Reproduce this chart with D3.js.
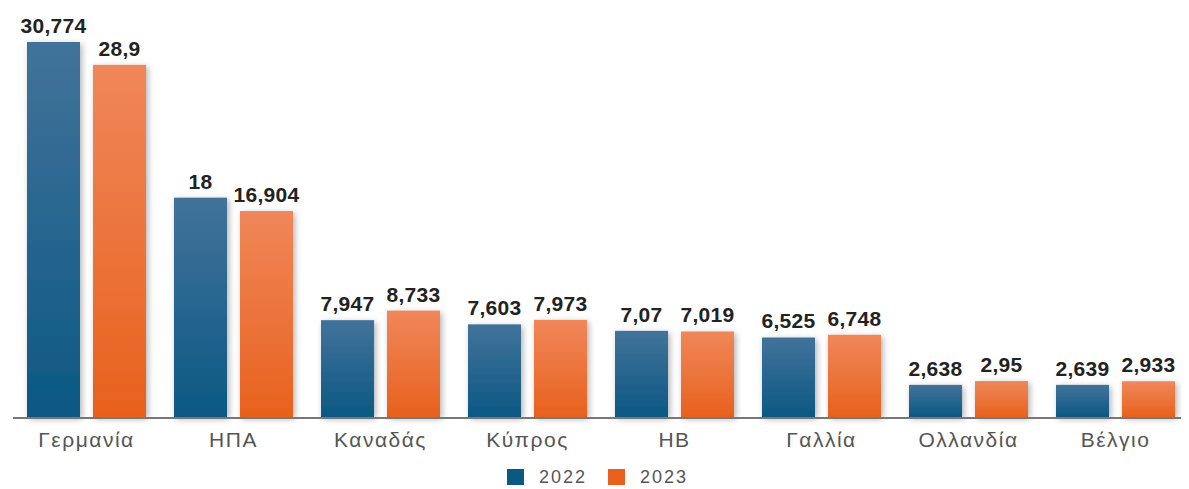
<!DOCTYPE html>
<html>
<head>
<meta charset="utf-8">
<script src="https://cdn.jsdelivr.net/npm/d3@7"></script>
<style>
  body { margin: 0; background: #fff; }
  svg { display: block; font-family: "Liberation Sans", Arial, sans-serif; }
</style>
</head>
<body>
<div id="chart"></div>
<script>
// Δεδομένα
const countries = ["Γερμανία", "ΗΠΑ", "Καναδάς", "Κύπρος", "ΗΒ", "Γαλλία", "Ολλανδία", "Βέλγιο"];
const years = ["2022", "2023"];
const values2022 = [30.774, 18, 7.947, 7.603, 7.07, 6.525, 2.638, 2.639];
const values2023 = [28.9, 16.904, 8.733, 7.973, 7.019, 6.748, 2.95, 2.933];

const WIDTH = 1189;
const HEIGHT = 489;
const margin = { top: 42, right: 0, bottom: 72, left: 13 };
const baseY = HEIGHT - margin.bottom;

const colors = {
  "2022": ["#42739a", "#0b5884"],
  "2023": ["#f0875a", "#e8611d"]
};

const rows = countries.map((c, i) => ({
  country: c,
  vals: [
    { year: "2022", v: values2022[i] },
    { year: "2023", v: values2023[i] }
  ]
}));

const svg = d3.select("#chart").append("svg")
  .attr("width", WIDTH)
  .attr("height", HEIGHT);

const defs = svg.append("defs");
years.forEach(y => {
  const g = defs.append("linearGradient")
    .attr("id", "grad" + y)
    .attr("x1", 0).attr("y1", 0).attr("x2", 0).attr("y2", 1);
  g.append("stop").attr("offset", "0%").attr("stop-color", colors[y][0]);
  g.append("stop").attr("offset", "100%").attr("stop-color", colors[y][1]);
});
defs.append("filter").attr("id", "shadow")
  .attr("x", "-30%").attr("y", "-10%").attr("width", "160%").attr("height", "130%")
  .append("feDropShadow")
  .attr("dx", 2).attr("dy", 2).attr("stdDeviation", 3)
  .attr("flood-color", "#000").attr("flood-opacity", 0.3);

// Escalas
const x0 = d3.scaleBand()
  .domain(countries)
  .range([margin.left, WIDTH - margin.right])
  .paddingInner(0)
  .paddingOuter(0);

const x1 = d3.scaleBand()
  .domain(years)
  .range([14, x0.bandwidth() - 14])
  .paddingInner(0.197);

const y = d3.scaleLinear()
  .domain([0, 30.774])
  .range([baseY, margin.top]);

const fmt = v => String(v).replace(".", ",");

// Barras
const groups = svg.append("g").selectAll("g")
  .data(rows)
  .join("g")
  .attr("transform", d => `translate(${x0(d.country)},0)`);

groups.selectAll("rect")
  .data(d => d.vals)
  .join("rect")
  .attr("x", d => x1(d.year))
  .attr("y", d => y(d.v))
  .attr("width", x1.bandwidth())
  .attr("height", d => baseY - y(d.v))
  .attr("fill", d => `url(#grad${d.year})`)
  .attr("filter", "url(#shadow)");

groups.selectAll("text.val")
  .data(d => d.vals)
  .join("text")
  .attr("class", "val")
  .attr("x", d => x1(d.year) + x1.bandwidth() / 2)
  .attr("y", d => y(d.v) - 9)
  .attr("text-anchor", "middle")
  .attr("font-size", 21)
  .attr("font-weight", "bold")
  .attr("letter-spacing", 0.3)
  .attr("fill", "#222")
  .text(d => fmt(d.v));

// Eje X
svg.append("line")
  .attr("x1", margin.left).attr("x2", 1181)
  .attr("y1", baseY + 1).attr("y2", baseY + 1)
  .attr("stroke", "#777").attr("stroke-width", 2);

svg.append("g").selectAll("text")
  .data(countries)
  .join("text")
  .attr("x", d => x0(d) + x0.bandwidth() / 2)
  .attr("y", baseY + 30)
  .attr("text-anchor", "middle")
  .attr("font-size", 21)
  .attr("letter-spacing", 1.5)
  .attr("fill", "#555")
  .text(d => d);

// Leyenda
const legend = svg.append("g").selectAll("g")
  .data(years)
  .join("g")
  .attr("transform", (d, i) => `translate(${507 + i * 101}, ${469})`);

legend.append("rect")
  .attr("width", 17).attr("height", 16)
  .attr("fill", d => colors[d][1]);

legend.append("text")
  .attr("x", 32).attr("y", 14)
  .attr("font-size", 18)
  .attr("letter-spacing", 2)
  .attr("fill", "#555")
  .text(d => d);
</script>
</body>
</html>
